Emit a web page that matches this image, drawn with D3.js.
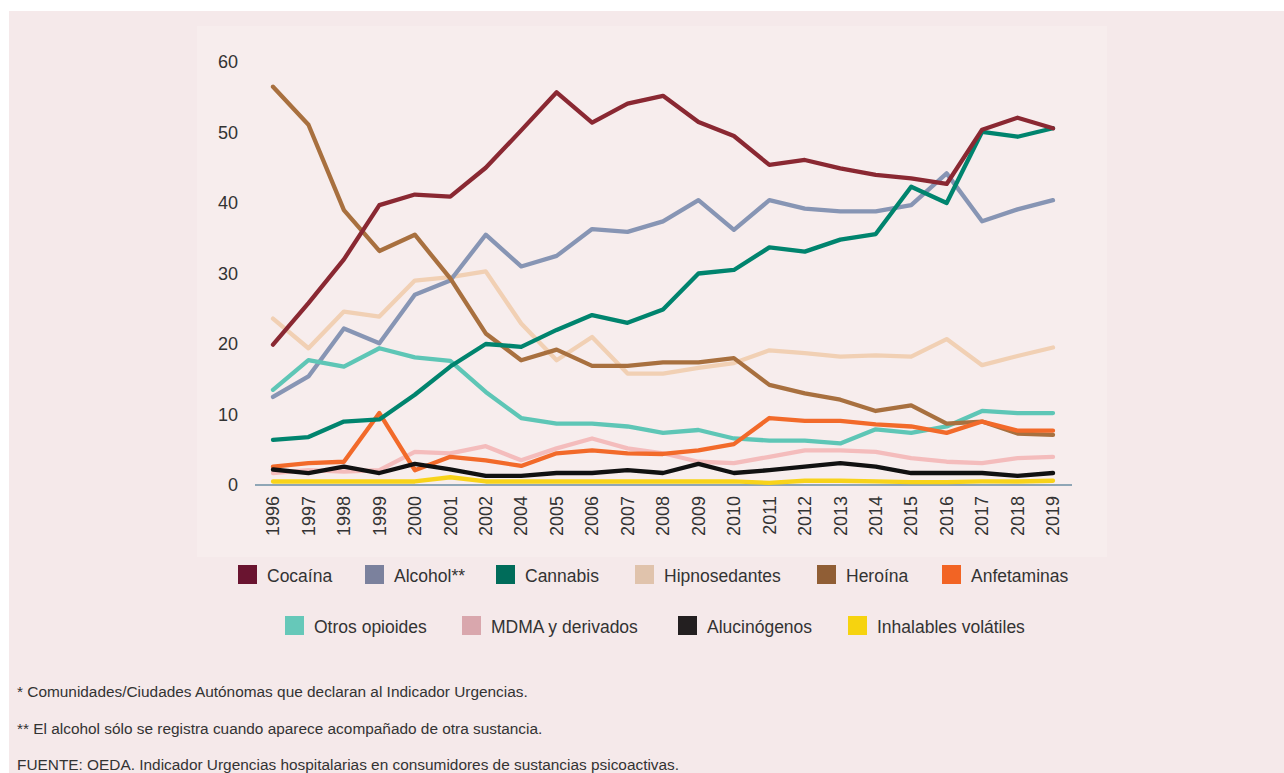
<!DOCTYPE html>
<html>
<head>
<meta charset="utf-8">
<script src="https://cdn.jsdelivr.net/npm/d3@7"></script>
<style>
  html, body { margin: 0; padding: 0; background: #ffffff; }
  svg { display: block; font-family: "Liberation Sans", Arial, sans-serif; }
</style>
</head>
<body>
<div id="chart"></div>
<script>
// years on the axis (2003 is not in the source)
const years = ["1996", "1997", "1998", "1999", "2000", "2001", "2002", "2004", "2005", "2006",
  "2007", "2008", "2009", "2010", "2011", "2012", "2013", "2014", "2015", "2016", "2017", "2018", "2019"];

const cocaina = [19.9, 25.8, 32.0, 39.7, 41.2, 40.9, 45.0, 50.3, 55.7, 51.4, 54.1, 55.2, 51.5, 49.5, 45.4, 46.1, 44.9, 44.0, 43.5, 42.7, 50.4, 52.1, 50.6];
const alcohol = [12.5, 15.4, 22.2, 20.1, 27.0, 29.0, 35.5, 31.0, 32.5, 36.3, 35.9, 37.4, 40.4, 36.2, 40.4, 39.2, 38.8, 38.8, 39.7, 44.2, 37.4, 39.1, 40.4];
const cannabis = [6.4, 6.8, 9.0, 9.3, 12.8, 16.8, 20.0, 19.6, 22.0, 24.1, 23.0, 24.9, 30.0, 30.5, 33.7, 33.1, 34.8, 35.6, 42.3, 40.0, 50.1, 49.4, 50.6];
const hipnosedantes = [23.6, 19.4, 24.6, 23.9, 29.0, 29.5, 30.3, 22.9, 17.7, 21.0, 15.8, 15.8, 16.6, 17.3, 19.1, 18.7, 18.2, 18.4, 18.2, 20.7, 17.0, 18.3, 19.5];
const heroina = [56.5, 51.1, 39.0, 33.2, 35.5, 29.3, 21.5, 17.7, 19.2, 16.9, 16.9, 17.4, 17.4, 18.0, 14.2, 13.0, 12.1, 10.5, 11.3, 8.7, 9.0, 7.3, 7.1];
const anfetaminas = [2.6, 3.1, 3.3, 10.2, 2.1, 4.0, 3.5, 2.7, 4.5, 4.9, 4.5, 4.4, 4.9, 5.8, 9.5, 9.1, 9.1, 8.6, 8.3, 7.4, 9.0, 7.7, 7.7];
const otrosOpioides = [13.5, 17.7, 16.8, 19.4, 18.1, 17.6, 13.2, 9.5, 8.7, 8.7, 8.3, 7.4, 7.8, 6.6, 6.3, 6.3, 5.9, 7.9, 7.4, 8.3, 10.5, 10.2, 10.2];
const mdma = [1.7, 2.1, 1.9, 2.1, 4.7, 4.5, 5.5, 3.5, 5.2, 6.6, 5.2, 4.5, 3.3, 3.1, 4.0, 4.9, 4.9, 4.7, 3.8, 3.3, 3.1, 3.8, 4.0];
const alucinogenos = [2.2, 1.7, 2.6, 1.7, 3.0, 2.2, 1.3, 1.3, 1.7, 1.7, 2.1, 1.7, 3.0, 1.7, 2.1, 2.6, 3.1, 2.6, 1.7, 1.7, 1.7, 1.3, 1.7];
const inhalables = [0.5, 0.5, 0.5, 0.5, 0.5, 1.1, 0.5, 0.5, 0.5, 0.5, 0.5, 0.5, 0.5, 0.5, 0.3, 0.6, 0.6, 0.5, 0.4, 0.4, 0.5, 0.5, 0.6];

const yTicks = [0, 10, 20, 30, 40, 50, 60];

const legendRow1 = ["Cocaína", "Alcohol**", "Cannabis", "Hipnosedantes", "Heroína", "Anfetaminas"];
const legendRow2 = ["Otros opioides", "MDMA y derivados", "Alucinógenos", "Inhalables volátiles"];

const notes = [
  "* Comunidades/Ciudades Autónomas que declaran al Indicador Urgencias.",
  "** El alcohol sólo se registra cuando aparece acompañado de otra sustancia.",
  "FUENTE: OEDA. Indicador Urgencias hospitalarias en consumidores de sustancias psicoactivas."
];

// series in drawing order (bottom first)
const series = [
  { name: "Inhalables volátiles", values: inhalables, line: "#f8d31a", swatch: "#f6d30f" },
  { name: "MDMA y derivados", values: mdma, line: "#f4bcbc", swatch: "#d9a7ad" },
  { name: "Hipnosedantes", values: hipnosedantes, line: "#f1d0b4", swatch: "#e0c3ac" },
  { name: "Alcohol**", values: alcohol, line: "#8795b4", swatch: "#7b819d" },
  { name: "Otros opioides", values: otrosOpioides, line: "#5ec6b6", swatch: "#66c8b9" },
  { name: "Heroína", values: heroina, line: "#a8703f", swatch: "#905e35" },
  { name: "Anfetaminas", values: anfetaminas, line: "#f26a2a", swatch: "#f26424" },
  { name: "Alucinógenos", values: alucinogenos, line: "#111111", swatch: "#231f20" },
  { name: "Cannabis", values: cannabis, line: "#00846e", swatch: "#006c5a" },
  { name: "Cocaína", values: cocaina, line: "#8a2832", swatch: "#6a1430" }
];
const byName = new Map(series.map(s => [s.name, s]));

const width = 1284, height = 773;
const svg = d3.select("#chart").append("svg")
  .attr("width", width)
  .attr("height", height);

// backgrounds
svg.append("rect").attr("x", 9).attr("y", 11).attr("width", width - 9).attr("height", height - 11)
  .attr("fill", "#f5e9ea");
svg.append("rect").attr("x", 197).attr("y", 26).attr("width", 910).attr("height", 531)
  .attr("fill", "#f7eded");

const x = d3.scalePoint().domain(years).range([273, 1053]);
const y = d3.scaleLinear().domain([0, 60]).range([485, 62]);

// y labels
svg.append("g").selectAll("text")
  .data(yTicks)
  .enter().append("text")
  .attr("x", 238)
  .attr("y", d => y(d))
  .attr("dy", "0.35em")
  .attr("text-anchor", "end")
  .attr("font-size", 18)
  .attr("fill", "#333")
  .text(d => d);

// base line
svg.append("line")
  .attr("x1", 255).attr("x2", 1072)
  .attr("y1", y(0)).attr("y2", y(0))
  .attr("stroke", "#8fa6b6")
  .attr("stroke-width", 2);

// x labels
svg.append("g").selectAll("text")
  .data(years)
  .enter().append("text")
  .attr("transform", d => "translate(" + x(d) + ",496) rotate(-90)")
  .attr("dy", "0.35em")
  .attr("text-anchor", "end")
  .attr("font-size", 18)
  .attr("fill", "#333")
  .text(d => d);

const line = d3.line()
  .x((d, i) => x(years[i]))
  .y(d => y(d));

svg.append("g").selectAll("path")
  .data(series)
  .enter().append("path")
  .attr("d", d => line(d.values))
  .attr("fill", "none")
  .attr("stroke", d => d.line)
  .attr("stroke-width", 4.3)
  .attr("stroke-linejoin", "round")
  .attr("stroke-linecap", "round");

// legend
function legendRow(names, xs, top) {
  const g = svg.append("g");
  const item = g.selectAll("g")
    .data(names)
    .enter().append("g")
    .attr("transform", (d, i) => "translate(" + xs[i] + "," + top + ")");
  item.append("rect")
    .attr("width", 19).attr("height", 19)
    .attr("fill", d => byName.get(d).swatch);
  item.append("text")
    .attr("x", 29).attr("y", 17)
    .attr("font-size", 17.5)
    .attr("fill", "#333")
    .text(d => d);
}
legendRow(legendRow1, [238, 365, 496, 635, 817, 942], 565);
legendRow(legendRow2, [285, 462, 678, 848], 616);

// notes
svg.append("g").selectAll("text")
  .data(notes)
  .enter().append("text")
  .attr("x", 17)
  .attr("y", (d, i) => 697 + i * 36.5)
  .attr("font-size", 15.4)
  .attr("fill", "#333")
  .text(d => d);
</script>
</body>
</html>
